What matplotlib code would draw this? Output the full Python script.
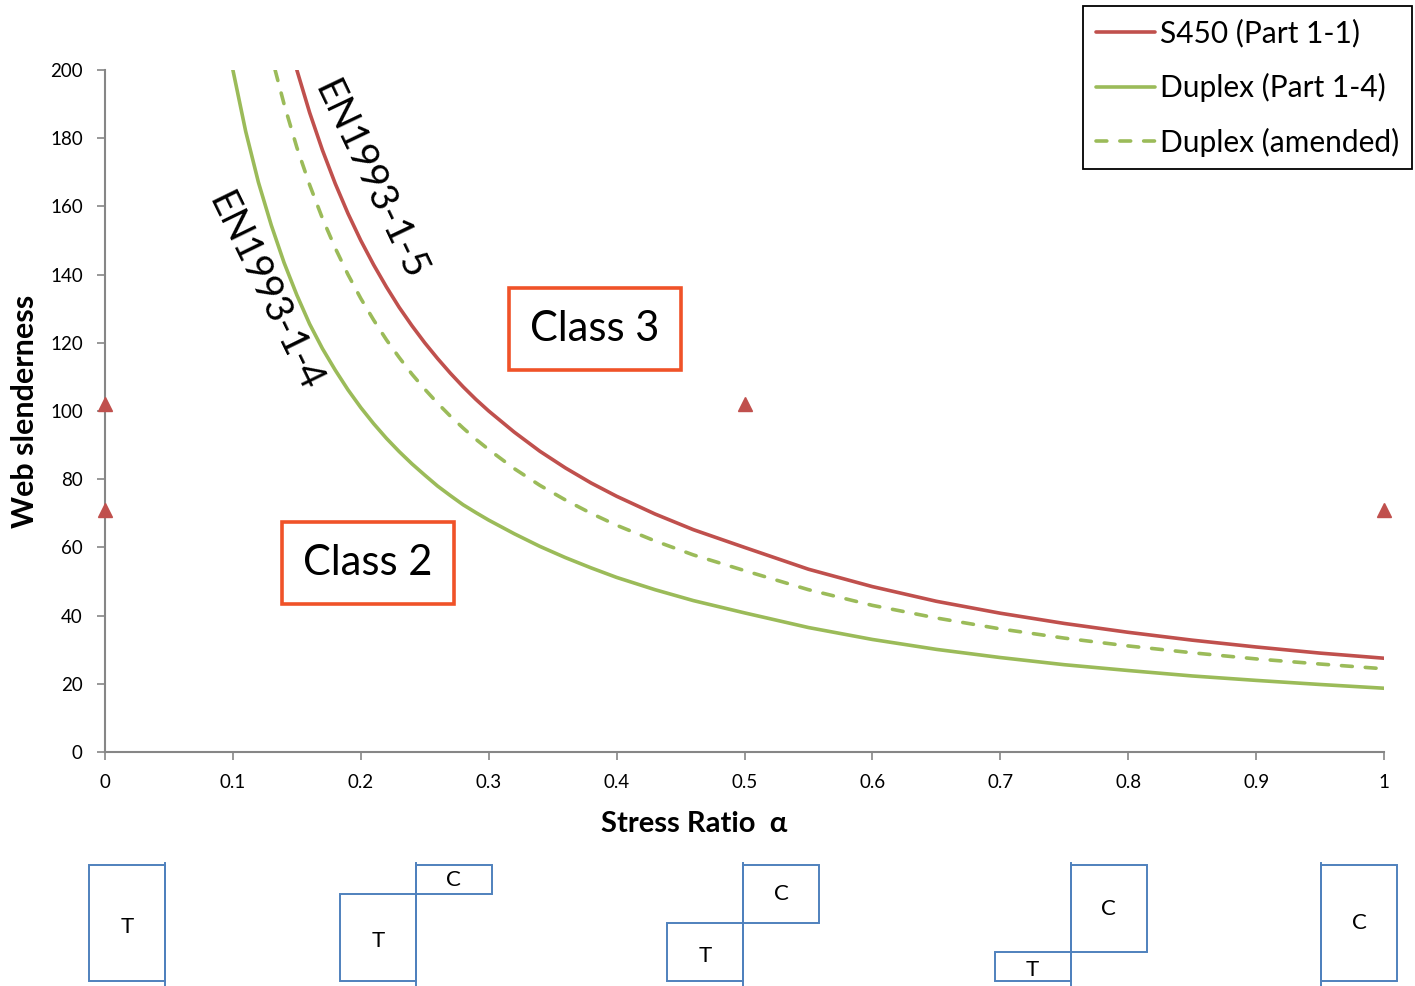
import matplotlib
matplotlib.use("Agg")
import matplotlib.pyplot as plt
from matplotlib.patches import Rectangle

plt.rcParams['font.family'] = ['Lato', 'DejaVu Sans']

# class 2 limits (web slenderness c/t vs stress ratio)
alpha_s450 = [0.15, 0.16, 0.17, 0.18, 0.19, 0.2, 0.21, 0.22, 0.23, 0.24, 0.25, 0.26, 0.27,
              0.28, 0.29, 0.3, 0.32, 0.34, 0.36, 0.38, 0.4, 0.43, 0.46, 0.5,
              0.55, 0.6, 0.65, 0.7, 0.75, 0.8, 0.85, 0.9, 0.95, 1.0]
slend_s450 = [200, 187.5, 176.5, 166.7, 157.9, 150, 142.9, 136.4, 130.4, 125, 120, 115.4, 111.1,
              107.1, 103.4, 100, 93.8, 88.2, 83.3, 78.9, 75, 69.8, 65.2, 60,
              53.6, 48.5, 44.2, 40.7, 37.7, 35.1, 32.8, 30.8, 29.0, 27.5]

alpha_dup = [0.1, 0.11, 0.12, 0.13, 0.14, 0.15, 0.16, 0.17, 0.18, 0.19, 0.2, 0.21, 0.22,
             0.23, 0.24, 0.25, 0.26, 0.27, 0.28, 0.29, 0.3, 0.32, 0.34, 0.36, 0.38, 0.4,
             0.43, 0.46, 0.5, 0.55, 0.6, 0.65, 0.7, 0.75, 0.8, 0.85, 0.9, 0.95, 1.0]
slend_dup = [200, 182, 167, 154.5, 143.5, 134, 125.5, 118.3, 112, 106.2, 101, 96.3, 92,
             88.1, 84.5, 81.2, 78, 75.2, 72.5, 70.2, 68, 64, 60.3, 57, 54, 51.2,
             47.6, 44.4, 40.8, 36.5, 33.0, 30.1, 27.7, 25.6, 23.9, 22.3, 21.0, 19.8, 18.7]

alpha_amend = [0.133, 0.14, 0.15, 0.16, 0.17, 0.18, 0.19, 0.2, 0.21, 0.22, 0.23, 0.24, 0.25,
               0.26, 0.27, 0.28, 0.29, 0.3, 0.32, 0.34, 0.36, 0.38, 0.4, 0.43, 0.46, 0.5,
               0.55, 0.6, 0.65, 0.7, 0.75, 0.8, 0.85, 0.9, 0.95, 1.0]
slend_amend = [200, 190, 177.3, 166.3, 156.5, 147.8, 140, 133, 126.7, 120.9, 115.7, 110.8, 106.4,
               102.3, 98.5, 95, 91.7, 88.7, 83.1, 78.2, 73.9, 70, 66.5, 61.9, 57.8, 53.2,
               47.6, 43.0, 39.3, 36.1, 33.4, 31.1, 29.1, 27.3, 25.8, 24.4]

# test points
test_alpha = [0, 0, 0.5, 1]
test_slend = [102, 71, 102, 71]

# stress block sketches under the x axis
block_alpha = [0, 0.25, 0.5, 0.75, 1]
block_pos = [0.047, 0.243, 0.499, 0.755, 0.951]

RED = '#C0504D'
GREEN = '#9BBB59'
BLUE = '#4F81BD'
ORANGE = '#F05228'
GREY = '#868686'

fig = plt.figure(figsize=(14.15, 9.86), dpi=100)
ax = fig.add_axes([105 / 1415, 1 - 752 / 986, 1279 / 1415, 682 / 986])

ax.plot(alpha_s450, slend_s450, color=RED, lw=2.6, label='S450 (Part 1-1)',
        solid_capstyle='round', solid_joinstyle='round')
ax.plot(alpha_dup, slend_dup, color=GREEN, lw=2.6, label='Duplex (Part 1-4)',
        solid_capstyle='round', solid_joinstyle='round')
ax.plot(alpha_amend, slend_amend, color=GREEN, lw=2.6, label='Duplex (amended)',
        dashes=(3, 3.6), dash_capstyle='round')
ax.plot(test_alpha, test_slend, linestyle='none', marker='^', ms=10, color=RED,
        clip_on=False, zorder=5)

ax.set_xlim(0, 1)
ax.set_ylim(0, 200)
ax.set_xticks([i / 10 for i in range(11)])
ax.set_xticklabels(['0', '0.1', '0.2', '0.3', '0.4', '0.5', '0.6', '0.7', '0.8', '0.9', '1'])
ax.set_yticks(range(0, 201, 20))
for side in ['top', 'right']:
    ax.spines[side].set_visible(False)
for side in ['left', 'bottom']:
    ax.spines[side].set_color(GREY)
    ax.spines[side].set_linewidth(1.5)
ax.tick_params(axis='both', colors=GREY, labelcolor='black', labelsize=13.5,
               length=6, width=1.2)
ax.tick_params(axis='x', pad=10)
ax.tick_params(axis='y', pad=10)

ax.set_xlabel('Stress Ratio  α', fontsize=21, fontweight='bold', va='top')
ax.xaxis.set_label_coords(0.4605, -0.086)
ax.set_ylabel('Web slenderness', fontsize=22, fontweight='bold', labelpad=8)

# curve annotations
ax.text(0.207, 167.7, 'EN1993-1-5', rotation=-64.5, rotation_mode='anchor',
        ha='center', va='center', fontsize=28)
ax.text(0.125, 134.9, 'EN1993-1-4', rotation=-64, rotation_mode='anchor',
        ha='center', va='center', fontsize=28)

box = dict(boxstyle='square,pad=0.52', fc='white', ec=ORANGE, lw=2.6)
ax.text(0.383, 124, 'Class 3', ha='center', va='center', fontsize=30, bbox=box)
ax.text(0.2056, 55.4, 'Class 2', ha='center', va='center', fontsize=30, bbox=box)

leg = ax.legend(loc='upper left', bbox_to_anchor=(1083 / 1415, 1 - 6 / 986),
                bbox_transform=fig.transFigure, borderaxespad=0, fontsize=21.5,
                handlelength=2.0, handletextpad=0.15, labelspacing=0.86,
                borderpad=0.42, fancybox=False, framealpha=1)
leg.get_frame().set_edgecolor('black')
leg.get_frame().set_linewidth(1.3)

# stress distributions: compression above, tension below the neutral line
bx = fig.add_axes([105 / 1415, 0, 1279 / 1415, 126 / 986])
bx.set_xlim(0, 1)
bx.set_ylim(0, 1)
bx.axis('off')
top, bot = 0.96, 0.04
w = 0.0594
for a, p in zip(block_alpha, block_pos):
    split = top - a * (top - bot)
    bx.plot([p, p], [0, 0.98], color=BLUE, lw=1.4, clip_on=False)
    if a > 0:
        bx.add_patch(Rectangle((p, split), w, top - split, fill=False, ec=BLUE, lw=1.4,
                               clip_on=False))
        bx.text(p + w / 2, (split + top) / 2, 'C', ha='center', va='center', fontsize=16)
    if a < 1:
        bx.add_patch(Rectangle((p - w, bot), w, split - bot, fill=False, ec=BLUE, lw=1.4,
                               clip_on=False))
        bx.text(p - w / 2, (split + bot) / 2 - 0.03, 'T', ha='center', va='center',
                fontsize=16)

fig.savefig('out.png', dpi=100)
